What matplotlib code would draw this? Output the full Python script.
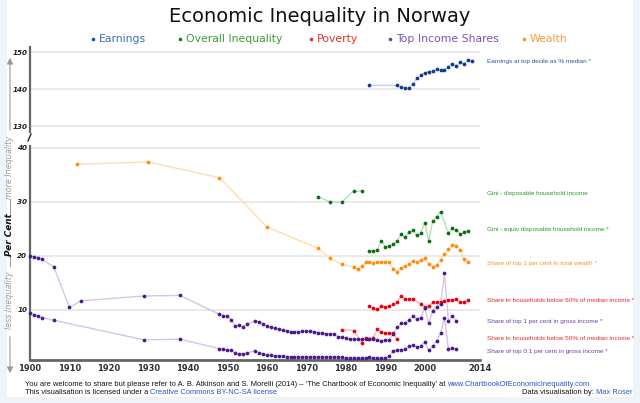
import matplotlib
matplotlib.use('Agg')
import matplotlib.pyplot as plt
from matplotlib.lines import Line2D
from matplotlib.patches import Rectangle, FancyArrowPatch

# earnings at top decile as % of median (upper panel)
earn_years = [1986, 1993, 1994, 1995, 1996, 1997, 1998, 1999, 2000, 2001, 2002,
              2003, 2004, 2005, 2006, 2007, 2008, 2009, 2010, 2011, 2012]
earn_vals = [141.0, 141.0, 140.5, 140.3, 140.3, 141.3, 142.9, 143.8, 144.3, 144.7, 144.9,
             145.3, 145.1, 145.2, 145.9, 146.8, 146.1, 147.2, 146.8, 147.9, 147.7]

# gini coefficients
gini_disp_years = [1973, 1976, 1979, 1982, 1984]
gini_disp_vals = [31.0, 30.0, 30.0, 32.0, 32.0]

gini_eq_years = [1986, 1987, 1988, 1989, 1990, 1991, 1992, 1993, 1994, 1995, 1996, 1997,
                 1998, 1999, 2000, 2001, 2002, 2003, 2004, 2006, 2007, 2008, 2009, 2010, 2011]
gini_eq_vals = [21.0, 21.0, 21.1, 22.8, 21.7, 21.85, 22.2, 22.8, 24.0, 23.5, 24.4, 24.8,
                23.8, 24.2, 26.2, 22.8, 26.4, 27.3, 28.2, 24.3, 25.1, 24.8, 24.0, 24.4, 24.7]

# share of top 1% in total wealth
wealth_years = [1912, 1930, 1948, 1960, 1973, 1976, 1979, 1982, 1983, 1984, 1985, 1986,
                1987, 1988, 1989, 1990, 1991, 1992, 1993, 1994, 1995, 1996, 1997, 1998,
                1999, 2000, 2001, 2002, 2003, 2004, 2005, 2006, 2007, 2008, 2009, 2010, 2011]
wealth_vals = [37.0, 37.4, 34.5, 25.4, 21.4, 19.6, 18.5, 17.9, 17.6, 18.1, 18.8, 18.8,
               18.7, 18.9, 18.9, 18.8, 18.8, 17.6, 17.1, 17.8, 18.1, 18.5, 19.1, 18.8,
               19.2, 19.6, 18.5, 18.0, 18.3, 19.3, 20.4, 21.3, 22.1, 21.85, 21.2, 19.4, 18.9]

# poverty
pov60_years = [1986, 1987, 1988, 1989, 1990, 1991, 1992, 1993, 1994, 1995, 1996, 1997,
               1999, 2000, 2001, 2002, 2003, 2004, 2005, 2006, 2007, 2008, 2009, 2010, 2011]
pov60_vals = [10.7, 10.3, 10.1, 10.7, 10.6, 10.65, 11.05, 11.4, 12.65, 12.0, 12.0, 12.0,
              11.1, 10.6, 10.7, 11.4, 11.4, 11.4, 11.6, 11.8, 11.85, 12.0, 11.4, 11.4, 11.8]

pov50_years = [1979, 1982, 1984, 1985, 1986, 1987, 1988, 1989, 1990, 1991, 1992, 1993]
pov50_vals = [6.35, 6.2, 3.95, 4.9, 4.6, 4.9, 6.4, 5.9, 5.8, 5.7, 5.8, 4.6]

# top income shares
top1_years = [1900, 1901, 1902, 1903, 1906, 1910, 1913, 1929, 1938,
              1948, 1949, 1950, 1951, 1952, 1953, 1954, 1955,
              1957, 1958, 1959, 1960, 1961, 1962, 1963, 1964, 1965, 1966, 1967, 1968,
              1969, 1970, 1971, 1972, 1973, 1974, 1975, 1976, 1977, 1978, 1979, 1980,
              1981, 1982, 1983, 1984, 1985, 1986, 1987, 1988, 1989, 1990, 1991, 1992,
              1993, 1994, 1995, 1996, 1997, 1998, 1999, 2000, 2001, 2002, 2003, 2004,
              2005, 2006, 2007, 2008]
top1_vals = [20.0, 19.8, 19.7, 19.4, 18.0, 10.5, 11.7, 12.6, 12.7,
             9.2, 8.95, 8.8, 8.2, 7.0, 7.2, 6.9, 7.35,
             7.96, 7.84, 7.4, 6.97, 6.85, 6.67, 6.42, 6.3, 6.05, 5.98, 5.98, 5.98,
             6.05, 6.05, 6.05, 5.9, 5.8, 5.74, 5.6, 5.55, 5.5, 5.06, 5.0, 4.8,
             4.6, 4.6, 4.6, 4.6, 4.6, 4.7, 4.6, 4.5, 4.25, 4.4, 4.5, 5.6,
             6.85, 7.5, 7.5, 8.15, 8.9, 8.3, 8.6, 10.4, 7.5, 9.9, 10.6, 11.05,
             16.8, 7.96, 8.9, 7.96]

top01_years = [1900, 1901, 1902, 1903, 1906, 1929, 1938,
               1948, 1949, 1950, 1951, 1952, 1953, 1954, 1955,
               1957, 1958, 1959, 1960, 1961, 1962, 1963, 1964, 1965, 1966, 1967, 1968,
               1969, 1970, 1971, 1972, 1973, 1974, 1975, 1976, 1977, 1978, 1979, 1980,
               1981, 1982, 1983, 1984, 1985, 1986, 1987, 1988, 1989, 1990, 1991, 1992,
               1993, 1994, 1995, 1996, 1997, 1998, 1999, 2000, 2001, 2002, 2003, 2004,
               2005, 2006, 2007, 2008]
top01_vals = [9.4, 9.07, 8.9, 8.6, 8.1, 4.45, 4.6,
              2.84, 2.72, 2.6, 2.53, 2.04, 1.9, 1.85, 2.04,
              2.47, 2.1, 1.85, 1.73, 1.6, 1.54, 1.48, 1.48, 1.36, 1.3, 1.3, 1.3,
              1.3, 1.3, 1.3, 1.3, 1.3, 1.3, 1.3, 1.3, 1.3, 1.23, 1.23, 1.17,
              1.17, 1.17, 1.17, 1.2, 1.2, 1.23, 1.17, 1.05, 1.05, 1.1, 1.54, 2.4,
              2.65, 2.65, 2.78, 3.27, 3.46, 3.09, 3.33, 4.1, 2.53, 3.27, 4.26, 5.68,
              8.58, 2.78, 3.03, 2.72]

x_ticks = [1900, 1910, 1920, 1930, 1940, 1950, 1960, 1970, 1980, 1990, 2000, 2014]

W, H = 640, 403


def fx(px):
    return px / W


def fy(py):
    return 1 - py / H


def dots(ax, x, y, dot, line):
    ax.plot(x, y, color=line, lw=1.0, zorder=2, clip_on=False)
    ax.plot(x, y, 'o', color=dot, ms=2.7, mew=0, zorder=3, clip_on=False)


fig = plt.figure(figsize=(6.4, 4.03), dpi=100)
fig.patch.set_facecolor('white')
# light frame round the chart area (left, right, bottom strips)
for r in [(0, 0, fx(7), 1), (fx(633), 0, 1 - fx(633), 1), (0, 0, 1, fy(397))]:
    fig.add_artist(Rectangle(r[:2], r[2], r[3], transform=fig.transFigure,
                             color='#eef4f8', zorder=0, lw=0))

ax_top = fig.add_axes([fx(30), fy(132), fx(480) - fx(30), fy(47) - fy(132)])
ax_low = fig.add_axes([fx(30), fy(360), fx(480) - fx(30), fy(146) - fy(360)])

for ax in (ax_top, ax_low):
    ax.set_xlim(1900, 2014)
    ax.set_facecolor('none')
    ax.spines['top'].set_visible(False)
    ax.spines['right'].set_visible(False)
    ax.spines['left'].set_color('#666666')
    ax.spines['left'].set_linewidth(1.6)
    ax.yaxis.grid(True, color='#e8e8e8', lw=1.3)
    ax.set_axisbelow(True)
    ax.tick_params(axis='y', length=0, pad=2, labelsize=5.2, colors='#222222')

ax_top.set_ylim(128.4, 151.35)
ax_top.set_yticks([130, 140, 150])
ax_top.spines['bottom'].set_visible(False)
ax_top.set_xticks([])

ax_low.set_ylim(0.74, 40.37)
ax_low.set_yticks([10, 20, 30, 40])
ax_low.spines['bottom'].set_color('#666666')
ax_low.spines['bottom'].set_linewidth(2)
ax_low.set_xticks(x_ticks)
ax_low.set_xticklabels([str(t) for t in x_ticks])
ax_low.tick_params(axis='x', length=0, pad=3, labelsize=6, colors='#333333')
for lab in ax_low.get_xticklabels():
    lab.set_fontweight('bold')
for ax in (ax_top, ax_low):
    for lab in ax.get_yticklabels():
        lab.set_fontstyle('italic')
        lab.set_fontweight('bold')

# series
dots(ax_top, earn_years, earn_vals, '#14398a', '#c4d4ea')
dots(ax_low, gini_disp_years, gini_disp_vals, '#0b6e12', '#b9dcb9')
dots(ax_low, gini_eq_years, gini_eq_vals, '#0b6e12', '#b9dcb9')
dots(ax_low, wealth_years, wealth_vals, '#ff8c0a', '#ffdcae')
dots(ax_low, pov60_years, pov60_vals, '#e8000c', '#f6b7b7')
dots(ax_low, pov50_years, pov50_vals, '#e8000c', '#f6b7b7')
dots(ax_low, top1_years, top1_vals, '#4a1a8c', '#d2c6e4')
dots(ax_low, top01_years, top01_vals, '#4a1a8c', '#d2c6e4')

# axis break mark
fig.add_artist(Line2D([fx(28), fx(31)], [fy(141), fy(134)], transform=fig.transFigure,
                      color='#222222', lw=1))

# title and legend
fig.text(0.5, fy(17), 'Economic Inequality in Norway', ha='center', va='center',
         fontsize=14, color='#111111')
legend = [(93, 'Earnings', '#1f4e9c', '#3c6eb4'),
          (180, 'Overall Inequality', '#1a7a1a', '#3a9a3a'),
          (311, 'Poverty', '#e8302a', '#e8302a'),
          (390, 'Top Income Shares', '#6a3fb0', '#7b52b8'),
          (524, 'Wealth', '#f7941d', '#f7a035')]
for px, name, dc, tc in legend:
    fig.add_artist(Line2D([fx(px)], [fy(39)], transform=fig.transFigure, marker='o',
                          ms=2.6, mew=0, color=dc))
    fig.text(fx(px + 6), fy(39), name, ha='left', va='center', fontsize=7.8, color=tc)

# series labels on the right
labels = [(61, 'Earnings at top decile as % median *', '#2f5596'),
          (194, 'Gini - disposable household income', '#2a9a2a'),
          (230, 'Gini - equiv disposable household income *', '#2a9a2a'),
          (263, 'Share of top 1 per cent in total wealth *', '#f7941d'),
          (301, 'Share in households below 60% of median income *', '#e8272a'),
          (321, 'Share of top 1 per cent in gross income *', '#6a3fa8'),
          (339, 'Share in households below 50% of median income *', '#e8272a'),
          (351, 'Share of top 0.1 per cent in gross income *', '#6a3fa8')]
for py, txt, c in labels:
    fig.text(fx(487), fy(py), txt, ha='left', va='center', fontsize=4.6,
             family='Liberation Sans', color=c)

# vertical axis caption with arrows
grey = '#9a9a9a'
fig.add_artist(FancyArrowPatch((fx(10), fy(133)), (fx(10), fy(55)), transform=fig.transFigure,
                               arrowstyle='-|>', mutation_scale=9, color=grey, lw=0.8))
fig.text(fx(10), fy(167), 'more Inequality', rotation=90, ha='center', va='center',
         fontsize=5.8, style='italic', color=grey)
fig.add_artist(Line2D([fx(10), fx(10)], [fy(199), fy(213)], transform=fig.transFigure,
                      color=grey, lw=0.8))
fig.text(fx(10), fy(235), 'Per Cent', rotation=90, ha='center', va='center',
         fontsize=6.4, style='italic', weight='bold', color='#111111')
fig.add_artist(Line2D([fx(10), fx(10)], [fy(256), fy(266)], transform=fig.transFigure,
                      color=grey, lw=0.8))
fig.text(fx(10), fy(300), 'less Inequality', rotation=90, ha='center', va='center',
         fontsize=5.8, style='italic', color=grey)
fig.add_artist(FancyArrowPatch((fx(10), fy(334)), (fx(10), fy(376)), transform=fig.transFigure,
                               arrowstyle='-|>', mutation_scale=9, color=grey, lw=0.8))

# footer
foot = dict(fontsize=5.4, family='Liberation Sans', va='center')
t1 = fig.text(fx(25), fy(384),
              "You are welcome to share but please refer to A. B. Atkinson and S. Morelli (2014) "
              "\u2013 \u2018The Chartbook of Economic Inequality\u2019 at ",
              color='#111111', **foot)
ax_low.annotate('www.ChartbookOfEconomicInequality.com', xy=(1, 0.5), xycoords=t1,
                ha='left', color='#2a55c8', annotation_clip=False, **foot)
t2 = fig.text(fx(25), fy(392), 'This visualisation is licensed under a ',
              color='#111111', **foot)
ax_low.annotate('Creative Commons BY-NC-SA license', xy=(1, 0.5), xycoords=t2,
                ha='left', color='#2a55c8', annotation_clip=False, **foot)
t3 = fig.text(fx(632), fy(392), 'Max Roser', ha='right', color='#2a55c8', **foot)
ax_low.annotate('Data visualisation by: ', xy=(0, 0.5), xycoords=t3,
                ha='right', color='#111111', annotation_clip=False, **foot)

fig.savefig('out.png', dpi=100)
